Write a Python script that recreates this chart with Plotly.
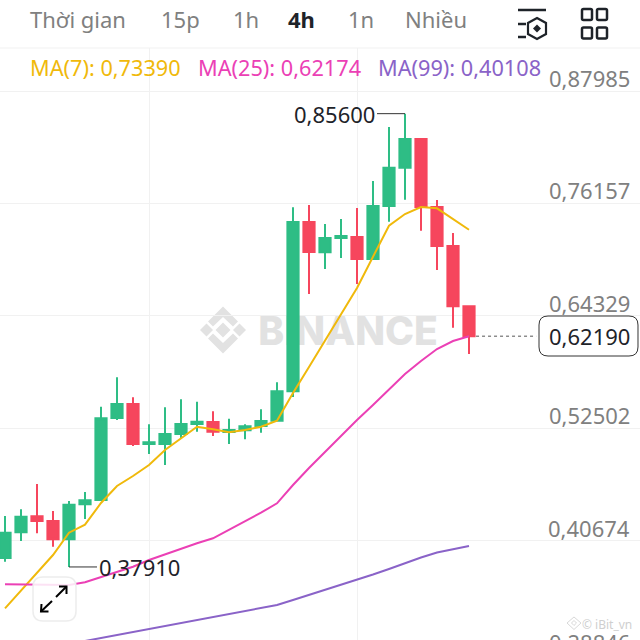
import plotly.graph_objects as go

FONT = "Noto Sans"
GREEN = "#2EBD85"
RED = "#F6465D"
DARK = "#1E2329"
GREY = "#808080"
GRID = "#F1F1F1"
MARK = "#E2E2E2"

# candles
candle = list(range(30))
opens = [0.38853, 0.41557, 0.43240, 0.42746, 0.40820, 0.44502, 0.44955, 0.53582, 0.55055, 0.50847,
         0.50847, 0.51899, 0.52951, 0.53161, 0.52109, 0.52288, 0.52740, 0.53298, 0.56391, 0.74203,
         0.71015, 0.72519, 0.72625, 0.70310, 0.75886, 0.79916, 0.82935, 0.75781, 0.71678, 0.65334]
highs = [0.43272, 0.43977, 0.46638, 0.43798, 0.44850, 0.45797, 0.54771, 0.57864, 0.55760, 0.52919,
         0.54708, 0.55549, 0.55297, 0.54287, 0.53509, 0.52919, 0.54497, 0.57338, 0.75749, 0.75991,
         0.73992, 0.74518, 0.75676, 0.78516, 0.84198, 0.85600, 0.82935, 0.76517, 0.73046, 0.65334]
lows = [0.38464, 0.40641, 0.41452, 0.40043, 0.37910, 0.42956, 0.44955, 0.53372, 0.50636, 0.49795,
        0.48637, 0.51446, 0.52141, 0.51688, 0.50847, 0.51341, 0.52035, 0.53298, 0.55791, 0.66628,
        0.69258, 0.70415, 0.67680, 0.70310, 0.74234, 0.76549, 0.73287, 0.69153, 0.63082, 0.60315]
closes = [0.41515, 0.43198, 0.42746, 0.40820, 0.44461, 0.44923, 0.53550, 0.55055, 0.50847, 0.51026,
          0.51899, 0.52951, 0.53193, 0.52141, 0.52320, 0.52709, 0.53266, 0.56391, 0.74203, 0.71047,
          0.72519, 0.72730, 0.70310, 0.75886, 0.79916, 0.82935, 0.75781, 0.71678, 0.65334, 0.62190]

ma7 = [0.33561, 0.35413, 0.37275, 0.39169, 0.41515, 0.42356, 0.44639, 0.46428, 0.47480, 0.48637,
       0.50215, 0.51446, 0.52667, 0.52393, 0.52078, 0.52320, 0.52667, 0.53298, 0.56212, 0.58948,
       0.61683, 0.64418, 0.67259, 0.70552, 0.73814, 0.75044, 0.75781, 0.75644, 0.74518, 0.73390]
ma25 = [0.36086, 0.36065, 0.36012, 0.35960, 0.36012, 0.36296, 0.36822, 0.37380, 0.37937, 0.38643,
        0.39242, 0.39873, 0.40399, 0.40925, 0.41799, 0.42746, 0.43619, 0.44608, 0.46533, 0.48322,
        0.50036, 0.51688, 0.53372, 0.54950, 0.56633, 0.58211, 0.59579, 0.60841, 0.61683, 0.62174]
ma99 = [0.28648, 0.28963, 0.29279, 0.29542, 0.29805, 0.30121, 0.30436, 0.30752, 0.31068, 0.31383,
        0.31699, 0.32014, 0.32330, 0.32646, 0.32961, 0.33277, 0.33593, 0.33908, 0.34434, 0.34960,
        0.35486, 0.36012, 0.36538, 0.37117, 0.37696, 0.38327, 0.38906, 0.39432, 0.39800, 0.40108]

price_ticks = [0.87985, 0.76157, 0.64329, 0.52502, 0.40674]
price_labels = ["0,87985", "0,76157", "0,64329", "0,52502", "0,40674"]
cut_tick = "0,28846"
grid_candles = [9, 22]

tabs = ["Thời gian", "15p", "1h", "4h", "1n", "Nhiều"]
tab_left = [28, 159, 231, 286, 346, 403]
ma_labels = ["MA(7): 0,73390", "MA(25): 0,62174", "MA(99): 0,40108"]
ma_left = [28, 196, 376]
ma_colors = ["#F0B90B", "#EB40B5", "#8A63C8"]

X_RANGE = [-0.3125, 39.6875]
Y_RANGE = [0.30226, 0.92509]


def px(x):
    return x / 640


def py(y):
    return 1 - y / 640


def poly(points, fill=None, color=None, width=0, close=True):
    d = "M " + " L ".join(f"{px(x):.5f},{py(y):.5f}" for x, y in points)
    if close:
        d += " Z"
    return dict(type="path", xref="paper", yref="paper", path=d, fillcolor=fill,
                line=dict(color=color, width=width))


def round_rect(x0, y0, x1, y1, r):
    # corners in pixels, quadratic arcs are close enough at this size
    p = lambda x, y: f"{px(x):.5f},{py(y):.5f}"
    return (f"M {p(x0 + r, y0)} L {p(x1 - r, y0)} Q {p(x1, y0)} {p(x1, y0 + r)} "
            f"L {p(x1, y1 - r)} Q {p(x1, y1)} {p(x1 - r, y1)} L {p(x0 + r, y1)} "
            f"Q {p(x0, y1)} {p(x0, y1 - r)} L {p(x0, y0 + r)} Q {p(x0, y0)} {p(x0 + r, y0)} Z")


fig = go.Figure()

# watermark sits on the base axes so the candles go over it
fig.add_trace(go.Scatter(x=[21.44], y=[0.62315], mode="text", text=["BINANCE"],
                         textposition="middle center", hoverinfo="skip", xaxis="x", yaxis="y",
                         textfont=dict(family="Inter", size=39, color=MARK, weight=800)))

fig.add_trace(go.Candlestick(x=candle, open=opens, high=highs, low=lows, close=closes,
                             increasing=dict(line=dict(color=GREEN, width=2), fillcolor=GREEN),
                             decreasing=dict(line=dict(color=RED, width=2), fillcolor=RED),
                             whiskerwidth=0, xaxis="x2", yaxis="y2"))

for series, color in zip([ma7, ma25, ma99], ma_colors):
    fig.add_trace(go.Scatter(x=candle, y=series, mode="lines", xaxis="x2", yaxis="y2",
                             line=dict(color=color, width=2)))

# last price leader
fig.add_trace(go.Scatter(x=[candle[-1] + 0.44, candle[-1] + 4.2], y=[closes[-1], closes[-1]],
                         mode="lines", xaxis="x2", yaxis="y2",
                         line=dict(color="#555555", width=1, dash="3px,3px")))

shapes = [
    dict(type="line", xref="paper", yref="paper", x0=0, x1=1, y0=py(48), y1=py(48),
         line=dict(color=GRID, width=1), layer="below"),
]

# logo of the watermark
cx, cy = 223, 330
for dx in (-16.5, 0, 16.5):
    r = 7.5 if dx == 0 else 6.5
    shapes.append(poly([(cx + dx, cy - r), (cx + dx + r, cy), (cx + dx, cy + r), (cx + dx - r, cy)], fill=MARK))
for sign in (-1, 1):
    shapes.append(poly([(cx, cy + sign * 23.5), (cx + 15, cy + sign * 8.5), (cx + 10, cy + sign * 3.5),
                        (cx, cy + sign * 13), (cx - 10, cy + sign * 3.5), (cx - 15, cy + sign * 8.5)], fill=MARK))
for s in shapes[1:]:
    s["layer"] = "below"

# price box
shapes.append(dict(type="path", xref="paper", yref="paper", path=round_rect(539, 316, 638, 356, 9),
                   fillcolor="white", line=dict(color="#333333", width=1)))

# expand button, the lines behind it show through faintly
shapes.append(dict(type="path", xref="paper", yref="paper", path=round_rect(33, 577, 76, 621, 10),
                   fillcolor="rgba(255,255,255,0.85)", line=dict(color="#EDEDED", width=1.5)))
shapes.append(poly([(41, 611.5), (52, 601)], color="black", width=2, close=False))
shapes.append(poly([(41.5, 604), (41, 611.5), (48.5, 611.5)], color="black", width=2, close=False))
shapes.append(poly([(56, 597), (66.5, 586.5)], color="black", width=2, close=False))
shapes.append(poly([(59, 586.5), (66.5, 586.5), (66.5, 594)], color="black", width=2, close=False))

# filter icon
for x0, x1, y in [(518, 546, 10), (518, 526, 24), (518, 526, 37)]:
    shapes.append(poly([(x0, y), (x1, y)], color=DARK, width=2.5, close=False))
shapes.append(poly([(537, 18), (546, 23), (546, 34), (537, 39), (528, 34), (528, 23)], color=DARK, width=2.2))
shapes.append(poly([(537, 24.5), (541, 28.5), (537, 32.5), (533, 28.5)], fill=DARK))

# grid icon
for x0 in (582, 597):
    for y0 in (9, 27.5):
        shapes.append(dict(type="path", xref="paper", yref="paper", path=round_rect(x0, y0, x0 + 10, y0 + 11, 1.5),
                           line=dict(color=DARK, width=2.5)))

# little mark next to the credit
shapes.append(poly([(574, 617), (581, 623), (574, 629.5), (567, 623)], color="#D8D8D8", width=1))
shapes.append(poly([(574, 620.5), (576.5, 623), (574, 625.5), (571.5, 623)], color="#D8D8D8", width=1))

annotations = []
for name, left in zip(tabs, tab_left):
    picked = name == "4h"
    annotations.append(dict(text=name, xref="paper", yref="paper", x=px(left), y=py(19), xanchor="left",
                            yanchor="middle", showarrow=False,
                            font=dict(family=FONT, size=22, color=DARK if picked else GREY,
                                      weight=700 if picked else 400)))
for name, left, color in zip(ma_labels, ma_left, ma_colors):
    annotations.append(dict(text=name, xref="paper", yref="paper", x=px(left), y=py(68), xanchor="left",
                            yanchor="middle", showarrow=False, font=dict(family=FONT, size=21.7, color=color)))
for value, name in zip(price_ticks, price_labels):
    annotations.append(dict(text=name, xref="paper", yref="y", x=px(632), y=value, xanchor="right",
                            yanchor="bottom", yshift=-4, showarrow=False,
                            font=dict(family=FONT, size=22, color=GREY)))
# this one hangs off the bottom edge
annotations.append(dict(text=cut_tick, xref="paper", yref="paper", x=px(632), y=py(642), xanchor="right",
                        yanchor="middle", showarrow=False, font=dict(family=FONT, size=22, color=GREY)))
annotations.append(dict(text=f"{closes[-1]:.5f}".replace(".", ","), xref="paper", yref="paper", x=px(589), y=py(336),
                        xanchor="center", yanchor="middle", showarrow=False,
                        font=dict(family=FONT, size=22, color=DARK)))
annotations.append(dict(text="© iBit_vn", xref="paper", yref="paper", x=px(634), y=py(624), xanchor="right",
                        yanchor="middle", showarrow=False, font=dict(family=FONT, size=12, color="#CFCFCF")))

# highest and lowest price callouts
for i, value in [(highs.index(max(highs)), max(highs)), (lows.index(min(lows)), min(lows))]:
    side = -1 if i > 15 else 1
    annotations.append(dict(text=f"{value:.5f}".replace(".", ","), xref="x2", yref="y2", x=i, y=value,
                            ax=side * 28, ay=0, xanchor="right" if side < 0 else "left", yanchor="middle",
                            showarrow=True, arrowhead=0, arrowwidth=1, arrowcolor="#333333",
                            font=dict(family=FONT, size=22, color=DARK)))

fig.update_layout(
    width=640,
    height=640,
    margin=dict(l=0, r=0, t=0, b=0),
    paper_bgcolor="white",
    plot_bgcolor="white",
    showlegend=False,
    boxgap=0,
    xaxis=dict(range=X_RANGE, tickvals=grid_candles, showticklabels=False, ticks="", showgrid=True,
               gridcolor=GRID, gridwidth=1, zeroline=False, showline=False),
    yaxis=dict(range=Y_RANGE, domain=[0, 0.925], tickvals=price_ticks, showticklabels=False, ticks="",
               showgrid=True, gridcolor=GRID, gridwidth=1, zeroline=False, showline=False),
    xaxis2=dict(range=X_RANGE, overlaying="x", visible=False, rangeslider=dict(visible=False)),
    yaxis2=dict(range=Y_RANGE, domain=[0, 0.925], overlaying="y", visible=False),
    shapes=shapes,
    annotations=annotations,
)

fig.write_html("out.html", config={"displayModeBar": False},
               post_script="document.body.style.margin='0';document.body.style.overflow='hidden';")
